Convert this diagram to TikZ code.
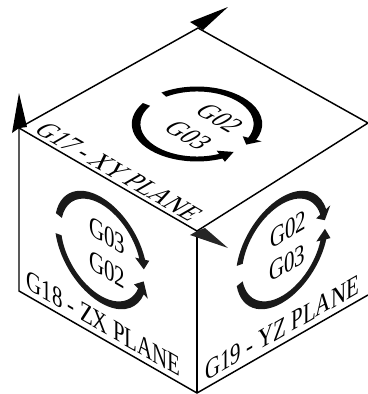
\documentclass[tikz,border=0pt]{standalone}
\usepackage{fontspec}
\setmainfont{Liberation Serif}
\newcommand{\planearc}[3]{\fill (#1:53) arc (#1:#2:53) -- (#2:58) -- (#3:49.5) -- (#2:41) -- (#2:46) arc (#2:#1:46) -- cycle;}
\tikzset{
  planetext/.style={font=\fontsize{18}{20}\selectfont, transform shape, inner sep=0pt, yscale=1.2},
  topplane/.style={cm={.87,-.5,.87,.5,(197,270)}},
  leftplane/.style={cm={.87,-.5,0,1,(101,144)}},
  rightplane/.style={cm={.87,.5,0,1,(282,144)}}
}
\begin{document}
\begin{tikzpicture}[x=.75pt,y=.75pt]
    \useasboundingbox (0,0) rectangle (368,394);
    \coordinate (top) at (198,366);
    \coordinate (left) at (19,266);
    \coordinate (right) at (368,271);
    \coordinate (front) at (197,163);
    \coordinate (leftbase) at (19,103);
    \coordinate (rightbase) at (368,99);
    \coordinate (base) at (197,1);
    \draw [line width=1.1pt] (left) -- (top) -- (right) -- (front) -- cycle;
    \draw [line width=1.1pt] (left) -- (leftbase) -- (base) -- (rightbase);
    \draw [line width=1.1pt] (front) -- (base);
    % axis arrows
    \fill (228,387) -- (190,372) -- (198,367) -- (203,364) -- cycle;
    \fill (19,301) -- (12,261) -- (19,266) -- (27,267) -- cycle;
    \fill [black!85] (228,146) -- (190,159) -- (197,163) -- (205,166) -- cycle;
    \begin{scope}[topplane]
      \planearc{168}{20}{9}
      \planearc{191}{338}{352}
      \node [planetext] at (7,19) {G02};
      \node [planetext] at (6,-16) {G03};
      \node [planetext] at (3,-93) {G17 - XY PLANE};
    \end{scope}
    \begin{scope}[leftplane,black!90]
      \planearc{168}{17}{6}
      \planearc{190}{338}{352}
    \end{scope}
    \begin{scope}[leftplane]
      \node [planetext] at (7,18) {G03};
      \node [planetext] at (7,-16) {G02};
      \node [planetext] at (3,-72) {G18 - ZX PLANE};
    \end{scope}
    \begin{scope}[rightplane,black!90]
      \planearc{169}{17}{6}
      \planearc{191}{344}{356}
    \end{scope}
    \begin{scope}[rightplane]
      \node [planetext] at (7,17) {G02};
      \node [planetext] at (6,-16) {G03};
      \node [planetext] at (0,-78) {G19 - YZ PLANE};
    \end{scope}
\end{tikzpicture}
\end{document}
